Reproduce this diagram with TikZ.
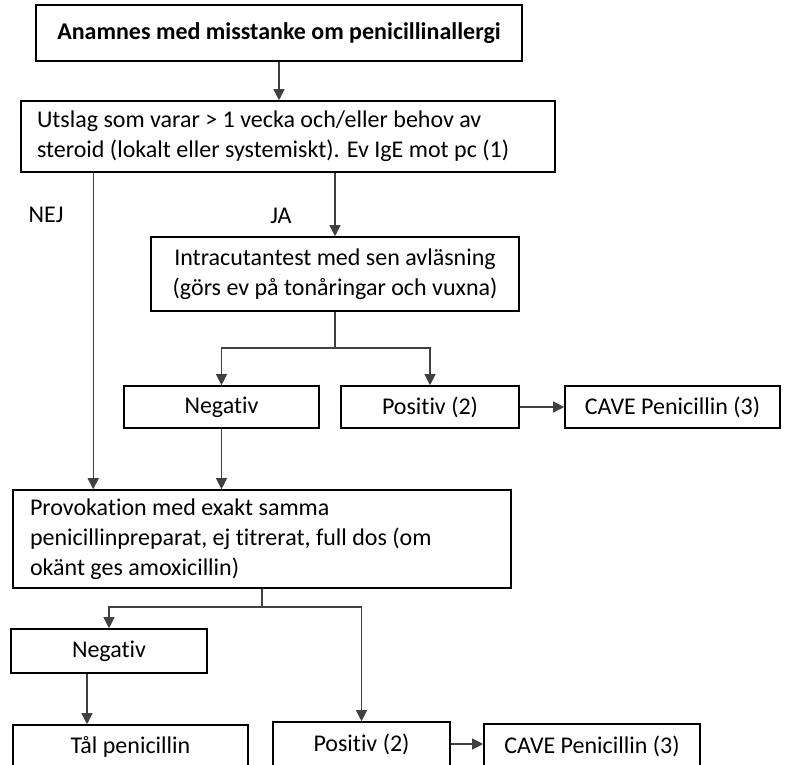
\documentclass[tikz,border=0pt]{standalone}
\usepackage{fontspec}
\setmainfont{Carlito}[Ligatures=NoCommon]
\usepackage{tikz}
\usetikzlibrary{arrows.meta, positioning}

\begin{document}
\begin{tikzpicture}[
    x=1pt, y=-1pt,
    box/.style={draw, line width=1.6pt, fill=white, minimum height=42pt, align=center, inner sep=0pt, font=\fontsize{24pt}{30pt}\selectfont},
    textbox/.style={box, align=flush left, inner xsep=16pt},
    label/.style={font=\fontsize{24pt}{30pt}\selectfont},
    line/.style={draw=black!75, line width=1.1pt},
    arrow/.style={line, -{Triangle[length=11pt, width=11pt]}}
]
\useasboundingbox (0,0) rectangle (789,764);
\clip (0,0) rectangle (789,764);

% top part
\node[box, font=\fontsize{24pt}{30pt}\selectfont\bfseries, minimum width=486, minimum height=56] (anamnes) at (279,33) {Anamnes med misstanke om penicillinallergi};
\node[textbox, minimum width=534, minimum height=71, text width=502] (utslag) at (288,136.5) {Utslag som varar > 1 vecka och/eller behov av\\steroid (lokalt eller systemiskt). Ev IgE mot pc (1)};
\node[label] (nej) at (46,215) {NEJ};
\node[label] (ja) at (281,216) {JA};
\node[box, minimum width=368, minimum height=74] (intra) at (335,274) {Intracutantest med sen avläsning\\(görs ev på tonåringar och vuxna)};

% test result
\node[box, minimum width=195] (neg1) at (221.5,407) {Negativ};
\node[box, minimum width=178] (pos1) at (430,407) {Positiv (2)};
\node[box, minimum width=215] (cave1) at (672.5,407) {CAVE Penicillin (3)};

% provocation
\node[textbox, minimum width=498, minimum height=98, text width=464] (prov) at (262,539) {Provokation med exakt samma\\penicillinpreparat, ej titrerat, full dos (om\\okänt ges amoxicillin)};
\node[box, minimum width=196, minimum height=44] (neg2) at (109,651) {Negativ};
\node[box, minimum width=235, minimum height=44] (tal) at (130.5,747) {Tål penicillin};
\node[box, minimum width=177, minimum height=44] (pos2) at (361.5,744) {Positiv (2)};
\node[box, minimum width=216, minimum height=44] (cave2) at (592,746) {CAVE Penicillin (3)};

\coordinate (split1) at (335,348);
\coordinate (split2) at (262,607);

\draw[arrow] (anamnes) -- (anamnes |- utslag.north);
\draw[arrow] ([xshift=73]utslag.south west) -- ([xshift=73]utslag.south west |- prov.north);
\draw[arrow] (intra.north |- utslag.south) -- (intra.north);
\draw[line] (intra) -- (split1);
\draw[arrow] (split1) -| (neg1.north);
\draw[arrow] (split1) -| (pos1.north);
\draw[arrow] (pos1) -- (cave1);
\draw[arrow] (neg1) -- (neg1 |- prov.north);
\draw[line] (prov) -- (split2);
\draw[arrow] (split2) -| (neg2.north);
\draw[arrow] (split2) -| (pos2.north);
\draw[arrow] ([xshift=-22]neg2.south) -- ([xshift=-22]neg2.south |- tal.north);
\draw[arrow] (pos2) -- (pos2 -| cave2.west);
\end{tikzpicture}
\end{document}
